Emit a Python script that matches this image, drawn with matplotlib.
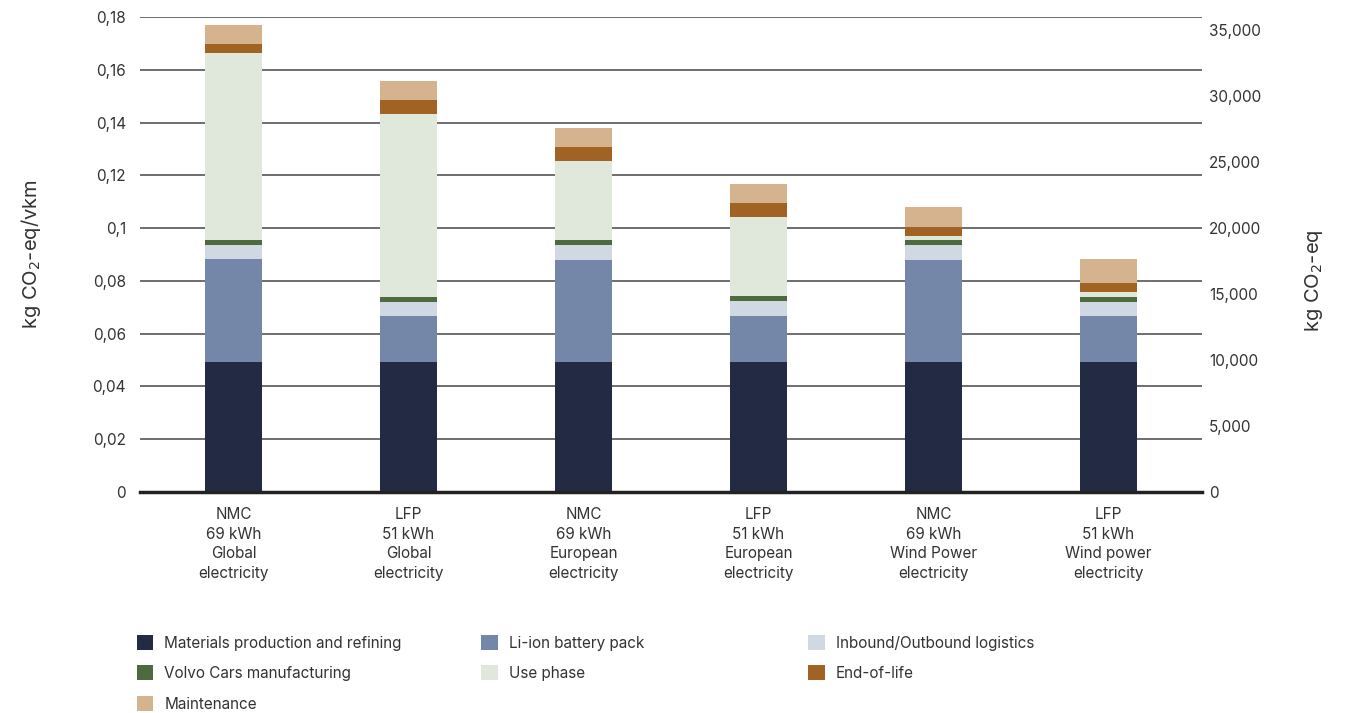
import matplotlib.pyplot as plt
from matplotlib.patches import Patch
from matplotlib.ticker import FuncFormatter

plt.rcParams['font.family'] = ['Inter', 'DejaVu Sans']

# per-vkm footprint of each life-cycle stage, one value per car configuration
configs = ["NMC\n69 kWh\nGlobal\nelectricity", "LFP\n51 kWh\nGlobal\nelectricity",
           "NMC\n69 kWh\nEuropean\nelectricity", "LFP\n51 kWh\nEuropean\nelectricity",
           "NMC\n69 kWh\nWind Power\nelectricity", "LFP\n51 kWh\nWind power\nelectricity"]
materials = [0.0493, 0.0493, 0.0493, 0.0493, 0.0493, 0.0493]
battery = [0.0390, 0.0175, 0.0387, 0.0174, 0.0387, 0.0174]
logistics = [0.0053, 0.0053, 0.0056, 0.0056, 0.0055, 0.0054]
manufacturing = [0.0019, 0.0019, 0.0018, 0.0018, 0.0019, 0.0019]
use_phase = [0.0709, 0.0694, 0.0301, 0.0301, 0.0017, 0.0018]
end_of_life = [0.0034, 0.0051, 0.0052, 0.0053, 0.0034, 0.0034]
maintenance = [0.0072, 0.0072, 0.0072, 0.0072, 0.0074, 0.0091]
lifetime_km = 200000

stages = [
    ("Materials production and refining", materials, "#222a44"),
    ("Li-ion battery pack", battery, "#7487a8"),
    ("Inbound/Outbound logistics", logistics, "#d0d9e3"),
    ("Volvo Cars manufacturing", manufacturing, "#4e6b3f"),
    ("Use phase", use_phase, "#e0e8dc"),
    ("End-of-life", end_of_life, "#a06323"),
    ("Maintenance", maintenance, "#d4b38e"),
]

fig = plt.figure(figsize=(13.46, 7.13), dpi=100)
ax = fig.add_axes([0.104, 0.31, 0.789, 0.666])

x = list(range(len(configs)))
bottom = [0.0] * len(configs)
for name, vals, col in stages:
    ax.bar(x, vals, 0.326, bottom=bottom, color=col, linewidth=0, zorder=3)
    bottom = [b + v for b, v in zip(bottom, vals)]

ax.set_xlim(-0.534, 5.534)
ax.set_ylim(0, 0.18)
ax.set_yticks([i * 0.02 for i in range(10)])
ax.yaxis.set_major_formatter(FuncFormatter(
    lambda v, p: "0" if v == 0 else ("%.2f" % v).rstrip("0").replace(".", ",")))
ax.grid(axis="y", color="#555555", linewidth=1.2, zorder=0)
ax.set_axisbelow(True)
for s in ["top", "right", "left"]:
    ax.spines[s].set_visible(False)
ax.spines["bottom"].set_linewidth(2.5)
ax.spines["bottom"].set_color("#222222")
ax.spines["bottom"].set_zorder(5)
ax.tick_params(axis="y", length=0, pad=10, labelsize=11, labelcolor="#333333")
ax.tick_params(axis="x", length=0, pad=11, labelsize=11, labelcolor="#333333")
ax.set_xticks(x)
ax.set_xticklabels(configs, linespacing=1.38)
ax.set_ylabel("kg CO$_2$-eq/vkm", fontsize=14.5, color="#333333")
ax.yaxis.set_label_coords(-0.091, 0.5)

# lifetime totals on the right axis
ax2 = ax.twinx()
ax2.set_ylim(0, 0.18 * lifetime_km)
ax2.set_yticks(range(0, 35001, 5000))
ax2.yaxis.set_major_formatter(FuncFormatter(lambda v, p: "{:,.0f}".format(v)))
for s in ax2.spines.values():
    s.set_visible(False)
ax2.tick_params(axis="y", length=0, pad=5, labelsize=11, labelcolor="#333333")
ax2.set_ylabel("kg CO$_2$-eq", fontsize=14.5, color="#333333")
ax2.yaxis.set_label_coords(1.095, 0.446)

# legend laid out in three columns
cols = {n: c for n, _, c in stages}
groups = [
    (["Materials production and refining", "Volvo Cars manufacturing", "Maintenance"], 0.097),
    (["Li-ion battery pack", "Use phase"], 0.353),
    (["Inbound/Outbound logistics", "End-of-life"], 0.596),
]
for names, xpos in groups:
    handles = [Patch(facecolor=cols[n], edgecolor="none") for n in names]
    fig.legend(handles, names, loc="upper left", bbox_to_anchor=(xpos, 0.118),
               frameon=False, fontsize=11, handlelength=1.1, handleheight=1.1,
               handletextpad=0.7, labelspacing=0.98, borderaxespad=0,
               labelcolor="#333333")

fig.savefig("out.png", dpi=100)
